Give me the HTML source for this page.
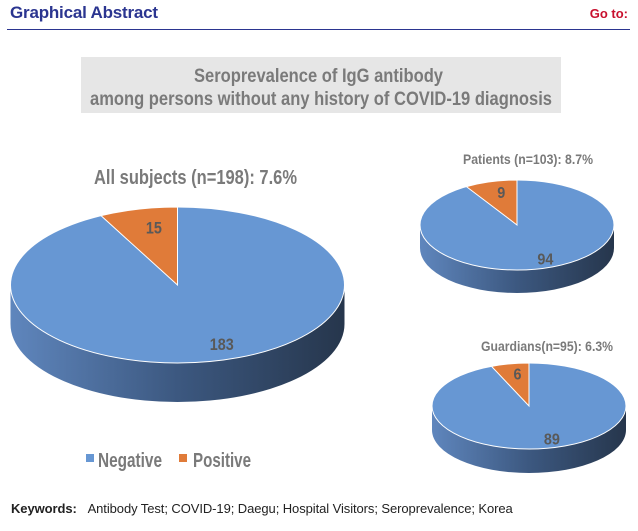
<!DOCTYPE html>
<html><head><meta charset="utf-8">
<style>
body{margin:0;width:638px;height:531px;background:#fff;position:relative;overflow:hidden;font-family:"Liberation Sans",sans-serif}
.hdr{position:absolute;left:10px;top:3px;font-size:17px;font-weight:bold;color:#2b3590;letter-spacing:-0.2px}
.goto{position:absolute;right:10px;top:6px;font-size:13px;font-weight:bold;color:#c8102e}
.rule{position:absolute;left:7px;top:29px;width:623px;height:1px;background:#2b3590}
.kw{position:absolute;left:11px;top:501px;font-size:13px;color:#222;letter-spacing:-0.08px}
.kw b{margin-right:8px}
svg{position:absolute;left:0;top:0}
</style></head><body>
<div class="hdr">Graphical Abstract</div>
<div class="goto">Go to:</div>
<div class="rule"></div>
<svg id="chart" width="638" height="531">
<defs>
<linearGradient id="side" x1="0" x2="1" y1="0" y2="0">
<stop offset="0" stop-color="#5f86bd"/><stop offset="0.5" stop-color="#3c5880"/><stop offset="1" stop-color="#26364c"/>
</linearGradient>
</defs>
<rect x="81" y="57" width="480" height="56" fill="#e6e6e6"/>
<text x="194" y="82" textLength="249" lengthAdjust="spacingAndGlyphs" font-family="'Liberation Sans',sans-serif" font-size="19" font-weight="bold" fill="#7a7a7a">Seroprevalence of IgG antibody</text>
<text x="90" y="105" textLength="462" lengthAdjust="spacingAndGlyphs" font-family="'Liberation Sans',sans-serif" font-size="19" font-weight="bold" fill="#7a7a7a">among persons without any history of COVID-19 diagnosis</text>
<g id="pies"></g>
<rect x="86" y="454" width="8" height="8" fill="#6797d3"/>
<text x="98" y="467" textLength="64" lengthAdjust="spacingAndGlyphs" font-family="'Liberation Sans',sans-serif" font-size="20" font-weight="bold" fill="#7a7a7a">Negative</text>
<rect x="179" y="454" width="8" height="8" fill="#e07b39"/>
<text x="193" y="467" textLength="58" lengthAdjust="spacingAndGlyphs" font-family="'Liberation Sans',sans-serif" font-size="20" font-weight="bold" fill="#7a7a7a">Positive</text>
</svg>
<div class="kw"><b>Keywords:</b> Antibody Test; COVID-19; Daegu; Hospital Visitors; Seroprevalence; Korea</div>
<script>
const groups = ["All subjects (n=198): 7.6%", "Patients (n=103): 8.7%", "Guardians(n=95): 6.3%"];
const negative = [183, 94, 89];
const positive = [15, 9, 6];
const layout = [
  {cx:177.5,cy:285,rx:167,ry:78,d:39,tx:94,ty:184,tw:203,fs:20,lfs:17},
  {cx:517,cy:225,rx:97,ry:45,d:23,tx:463,ty:164,tw:130,fs:14,lfs:16},
  {cx:529,cy:406,rx:97,ry:43,d:24,tx:481,ty:351,tw:132,fs:14,lfs:16}
];
const NS="http://www.w3.org/2000/svg";
const g=document.getElementById('pies');
function mk(tag,attrs){const e=document.createElementNS(NS,tag);for(const k in attrs)e.setAttribute(k,attrs[k]);g.appendChild(e);return e;}
function pt(L,a){return [L.cx+L.rx*Math.sin(a), L.cy-L.ry*Math.cos(a)];}
const font="'Liberation Sans',sans-serif";
groups.forEach((name,i)=>{
  const L=layout[i];
  const tot=negative[i]+positive[i];
  const side=mk('path',{d:`M${L.cx-L.rx},${L.cy} L${L.cx-L.rx},${L.cy+L.d} A${L.rx},${L.ry} 0 0 0 ${L.cx+L.rx},${L.cy+L.d} L${L.cx+L.rx},${L.cy} A${L.rx},${L.ry} 0 0 1 ${L.cx-L.rx},${L.cy} Z`,fill:'url(#side)'});
  
  
  const top=mk('ellipse',{cx:L.cx,cy:L.cy,rx:L.rx,ry:L.ry,fill:'#6797d3',stroke:'#fff','stroke-width':1});
  
  
  const a=-2*Math.PI*positive[i]/tot;
  const p=pt(L,a);
  const large=Math.abs(a)>Math.PI?1:0;
  const pos=mk('path',{d:`M${L.cx},${L.cy} L${L.cx},${L.cy-L.ry} A${L.rx},${L.ry} 0 ${large} 0 ${p[0]},${p[1]} Z`,fill:'#e07b39',stroke:'#fff','stroke-width':1});
  
  
  const mp=pt({cx:L.cx,cy:L.cy,rx:L.rx*0.6,ry:L.ry*0.76},a/2);
  const s1=String(positive[i]);
  const t1=mk('text',{x:mp[0],y:mp[1]+L.lfs*0.36,'text-anchor':'middle','font-family':font,'font-size':L.lfs,'font-weight':'bold',fill:'#595959',textLength:s1.length*8,lengthAdjust:'spacingAndGlyphs'});
  t1.textContent=s1;
  
  
  const mn=pt({cx:L.cx,cy:L.cy,rx:L.rx*0.8,ry:L.ry*0.8},Math.PI+a/2-0.1);
  const s2=String(negative[i]);
  const t2=mk('text',{x:mn[0],y:mn[1]+L.lfs*0.36,'text-anchor':'middle','font-family':font,'font-size':L.lfs,'font-weight':'bold',fill:'#595959',textLength:s2.length*8,lengthAdjust:'spacingAndGlyphs'});
  t2.textContent=s2;
  
  
  const tt=mk('text',{x:L.tx,y:L.ty,'font-family':font,'font-size':L.fs,'font-weight':'bold',fill:'#7a7a7a',textLength:L.tw,lengthAdjust:'spacingAndGlyphs'});
  tt.textContent=name;
  
  
});
</script>
</body></html>
